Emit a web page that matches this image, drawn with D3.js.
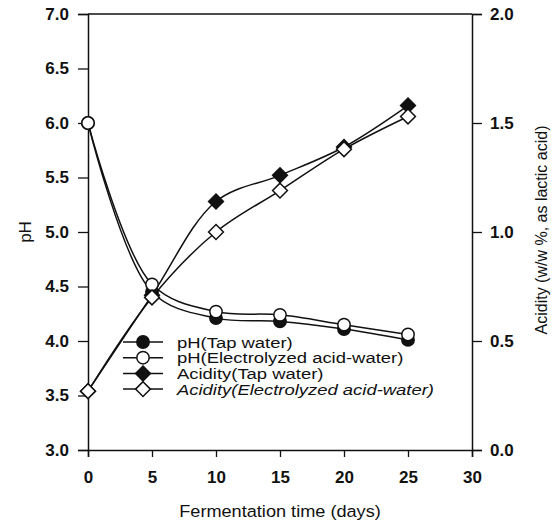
<!DOCTYPE html>
<html>
<head>
<meta charset="utf-8">
<script src="https://cdn.jsdelivr.net/npm/d3@7"></script>
<style>
  body { margin: 0; background: #fff; }
  svg text { font-family: "Liberation Sans", Arial, sans-serif; fill: #111; }
</style>
</head>
<body>
<div id="chart"></div>
<script>
// Fermentation: pH and acidity over time

const days = [0, 5, 10, 15, 20, 25];
const phTap = [6.0, 4.45, 4.21, 4.18, 4.11, 4.01];
const phElectro = [6.0, 4.52, 4.27, 4.24, 4.15, 4.06];
const acidTap = [0.27, 0.71, 1.14, 1.26, 1.39, 1.58];
const acidElectro = [0.27, 0.70, 1.00, 1.19, 1.38, 1.53];

const xTicks = [0, 5, 10, 15, 20, 25, 30];
const phTicks = [3.0, 3.5, 4.0, 4.5, 5.0, 5.5, 6.0, 6.5, 7.0];
const acidTicks = [0.0, 0.5, 1.0, 1.5, 2.0];

const legendLabels = [
    'pH(Tap water)',
    'pH(Electrolyzed acid-water)',
    'Acidity(Tap water)',
    'Acidity(Electrolyzed acid-water)'
];

// rotated square, like the scanned markers
const diamond = {
    draw(context, size) {
        const r = Math.sqrt(size / 2);
        context.moveTo(0, -r);
        context.lineTo(r, 0);
        context.lineTo(0, r);
        context.lineTo(-r, 0);
        context.closePath();
    }
};

function drawChart() {
    const width = 554, height = 524;
    const margin = { top: 14, right: 82, bottom: 74, left: 88 };
    const plotW = width - margin.left - margin.right;
    const plotH = height - margin.top - margin.bottom;

    const svg = d3.select('#chart').append('svg')
        .attr('width', width)
        .attr('height', height);

    const g = svg.append('g')
        .attr('transform', `translate(${margin.left},${margin.top})`);

    const x = d3.scaleLinear().domain([0, 30]).range([0, plotW]);
    const yPh = d3.scaleLinear().domain([3, 7]).range([plotH, 0]);
    const yAcid = d3.scaleLinear().domain([0, 2]).range([plotH, 0]);

    // Axes
    const xAxis = g.append('g')
        .attr('transform', `translate(0,${plotH})`)
        .call(d3.axisBottom(x).tickValues(xTicks).tickFormat(d3.format('d')).tickSize(7).tickPadding(14));

    const leftAxis = g.append('g')
        .call(d3.axisLeft(yPh).tickValues(phTicks).tickFormat(d3.format('.1f')).tickSize(10).tickPadding(9));

    const rightAxis = g.append('g')
        .attr('transform', `translate(${plotW},0)`)
        .call(d3.axisRight(yAcid).tickValues(acidTicks).tickFormat(d3.format('.1f')).tickSize(10).tickPadding(8));

    // top frame line
    g.append('line')
        .attr('x1', 0).attr('x2', plotW)
        .attr('y1', 0).attr('y2', 0)
        .attr('stroke', '#111').attr('stroke-width', 1.5);

    [xAxis, leftAxis, rightAxis].forEach(ax => {
        ax.select('.domain').attr('stroke', '#111').attr('stroke-width', 1.5);
        ax.selectAll('.tick line').attr('stroke', '#111').attr('stroke-width', 1.3);
        ax.selectAll('.tick text')
            .attr('font-size', '17px')
            .attr('font-weight', 'bold')
            .attr('fill', '#111');
    });

    // Axis titles
    svg.append('text')
        .attr('transform', `translate(31,${margin.top + plotH / 2}) rotate(-90)`)
        .attr('text-anchor', 'middle')
        .attr('font-size', '17px')
        .text('pH');

    svg.append('text')
        .attr('transform', `translate(547,230) rotate(-90)`)
        .attr('text-anchor', 'middle')
        .attr('font-size', '16px')
        .text('Acidity (w/w %, as lactic acid)');

    svg.append('text')
        .attr('transform', `translate(${margin.left + plotW / 2},517) scale(1.1,1)`)
        .attr('text-anchor', 'middle')
        .attr('font-size', '16.5px')
        .text('Fermentation time (days)');

    // Series
    const series = [
        { vals: phTap, y: yPh, shape: d3.symbolCircle, fill: '#111', size: 120 },
        { vals: acidTap, y: yAcid, shape: diamond, fill: '#111', size: 110 },
        { vals: phElectro, y: yPh, shape: d3.symbolCircle, fill: '#fff', size: 120 },
        { vals: acidElectro, y: yAcid, shape: diamond, fill: '#fff', size: 110 }
    ];

    series.forEach(s => {
        const pts = days.map((d, i) => [x(d), s.y(s.vals[i])]);
        const line = d3.line().curve(d3.curveCatmullRom.alpha(0.5));
        g.append('path')
            .attr('d', line(pts))
            .attr('fill', 'none')
            .attr('stroke', '#111')
            .attr('stroke-width', 1.5);
    });

    series.forEach(s => {
        g.selectAll(null)
            .data(days.map((d, i) => [x(d), s.y(s.vals[i])]))
            .enter()
            .append('path')
            .attr('transform', d => `translate(${d[0]},${d[1]})`)
            .attr('d', d3.symbol().type(s.shape).size(s.size))
            .attr('fill', s.fill)
            .attr('stroke', '#111')
            .attr('stroke-width', 1.5);
    });

    // Legend
    const legend = svg.append('g').attr('transform', 'translate(123,342)');
    const legendSeries = [series[0], series[2], series[1], series[3]];
    legendLabels.forEach((label, i) => {
        const row = legend.append('g').attr('transform', `translate(0,${i * 15.7})`);
        row.append('line')
            .attr('x1', 0).attr('x2', 40)
            .attr('stroke', '#111').attr('stroke-width', 1.5);
        row.append('path')
            .attr('transform', 'translate(20,0)')
            .attr('d', d3.symbol().type(legendSeries[i].shape).size(legendSeries[i].size))
            .attr('fill', legendSeries[i].fill)
            .attr('stroke', '#111')
            .attr('stroke-width', 1.5);
        row.append('text')
            .attr('transform', 'translate(54,5.5) scale(1.19,1)')
            .attr('font-size', '15.5px')
            .attr('font-style', i === 3 ? 'italic' : 'normal')
            .text(label);
    });
}

drawChart();
</script>
</body>
</html>
